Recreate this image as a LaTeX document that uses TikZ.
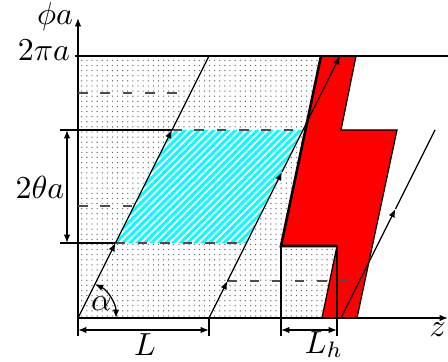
\documentclass[tikz,border=0pt]{standalone}
\usepackage{amsmath,amssymb}
\usepackage{tikz}
\usetikzlibrary{arrows.meta,patterns.meta}
\usepackage{xcolor}
\definecolor{boltred}{RGB}{255,0,0}
\definecolor{stripcyan}{RGB}{0,255,255}

\begin{document}
\begin{tikzpicture}[x=0.011cm,y=0.011cm,
    tip/.style={-{Latex[length=2.6pt,width=2pt]}},
    dim/.style={{Latex[length=2.6pt,width=2pt]}-{Latex[length=2.6pt,width=2pt]}},
    wrap/.style={black!70,dash pattern=on 3pt off 4pt}]
  \useasboundingbox (-78,-44) rectangle (370,318);
  \coordinate (o) at (0,0);
  \coordinate (a1) at (37.5,75);
  \coordinate (a2) at (94,188);
  \coordinate (a3) at (131,262);
  \coordinate (b0) at (131,0);
  \coordinate (b1) at (149.5,37);
  \coordinate (b2) at (204,146);
  \coordinate (b3) at (262,262);
  \coordinate (c0) at (263,0);
  \coordinate (c1) at (317.5,109);
  \coordinate (c2) at (357,188);
  \fill[pattern={Dots[distance=1.6pt,radius=0.22pt]},pattern color=black!60]
    (o) -- (0,262) -- (243,262) -- (203,72) -- (259,72) -- (244,0) -- cycle;
  \fill[stripcyan] (a1) -- (168.5,75) -- (225,188) -- (a2) -- cycle;
  \fill[pattern={Lines[angle=45,distance=1.6pt,line width=0.6pt]},pattern color=white]
    (a1) -- (168.5,75) -- (225,188) -- (a2) -- cycle;
  \filldraw[fill=boltred,draw=black] (243,262) -- (278,262) -- (263,188) -- (319,188)
    -- (279,0) -- (244,0) -- (259,72) -- (203,72) -- cycle;
  \draw[thick] (259,72) -- (203,72) -- (243,262);
  \draw[tip] (o) -- (0,300);
  \draw[tip] (o) -- (370,0);
  \draw (-3,262) -- (370,262);
  \draw (-18,188) -- (a2);
  \draw (-18,75) -- (a1);
  \draw[wrap] (a2) -- (225,188);
  \draw[wrap] (a1) -- (168.5,75);
  \draw[wrap] (0,225) -- (112.5,225);
  \draw[wrap] (0,112) -- (56,112);
  \draw[wrap] (b1) -- (281.5,37);
  \draw[tip] (o) -- (a1);
  \draw[tip] (a1) -- (a2);
  \draw (a2) -- (a3);
  \draw[tip] (b0) -- (b1);
  \draw[tip] (b1) -- (b2);
  \draw[tip] (b2) -- (b3);
  \draw[tip] (c0) -- (c1);
  \draw (c1) -- (c2);
  \draw (0,0) -- (0,-18);
  \draw (b0) -- (131,-18);
  \draw (203,72) -- (203,-18);
  \draw (259,72) -- (259,-18);
  \draw[dim] (0,-12) -- (131,-12);
  \draw[dim] (203,-12) -- (259,-12);
  \draw[dim] (-11,75) -- (-11,188);
  \draw[dim] (63.4:38) arc (63.4:0:38);
  \node (phi) at (-23,301) {$\phi a$};
  \node (twopi) at (-34,268) {$2\pi a$};
  \node (theta) at (-38,131) {$2\theta a$};
  \node (alpha) at (23.5,14) {$\alpha$};
  \node[anchor=base] (len) at (67,-38) {$L$};
  \node[anchor=base] (lenh) at (246,-35) {$L_h$};
  \node[anchor=east,inner sep=0.5pt] (zed) at (370,-12) {$z$};
\end{tikzpicture}
\end{document}
